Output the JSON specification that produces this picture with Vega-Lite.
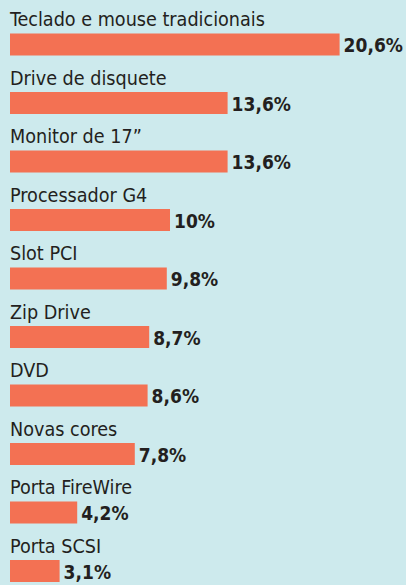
{
  "$schema": "https://vega.github.io/schema/vega-lite/v6.json",
  "width": 396,
  "height": 585,
  "padding": {"left": 10, "top": 0, "right": 0, "bottom": 0},
  "autosize": "none",
  "background": "#cdeaed",
  "config": {"view": {"stroke": null}},
  "data": {
    "values": [
      {"item": "Teclado e mouse tradicionais", "pct": 20.6, "label": "20,6%"},
      {"item": "Drive de disquete", "pct": 13.6, "label": "13,6%"},
      {"item": "Monitor de 17”", "pct": 13.6, "label": "13,6%"},
      {"item": "Processador G4", "pct": 10, "label": "10%"},
      {"item": "Slot PCI", "pct": 9.8, "label": "9,8%"},
      {"item": "Zip Drive", "pct": 8.7, "label": "8,7%"},
      {"item": "DVD", "pct": 8.6, "label": "8,6%"},
      {"item": "Novas cores", "pct": 7.8, "label": "7,8%"},
      {"item": "Porta FireWire", "pct": 4.2, "label": "4,2%"},
      {"item": "Porta SCSI", "pct": 3.1, "label": "3,1%"}
    ]
  },
  "encoding": {
    "y": {"field": "item", "type": "nominal", "sort": null, "axis": null,
          "scale": {"paddingInner": 0, "paddingOuter": 0}}
  },
  "layer": [
    {
      "mark": {"type": "bar", "height": 22, "yOffset": 15.3, "color": "#f37153"},
      "encoding": {
        "x": {"field": "pct", "type": "quantitative", "axis": null,
              "scale": {"domain": [0, 24.75], "nice": false, "zero": true}}
      }
    },
    {
      "mark": {"type": "text", "align": "left", "baseline": "alphabetic", "yOffset": -3,
               "font": "DejaVu Sans Condensed", "fontSize": 19.6, "color": "#231f20"},
      "encoding": {
        "x": {"datum": 0, "type": "quantitative"},
        "text": {"field": "item"}
      }
    },
    {
      "mark": {"type": "text", "align": "left", "baseline": "alphabetic", "yOffset": 23, "dx": 4,
               "font": "DejaVu Sans Condensed", "fontWeight": "bold", "fontSize": 19, "color": "#231f20"},
      "encoding": {
        "x": {"field": "pct", "type": "quantitative"},
        "text": {"field": "label"}
      }
    }
  ]
}
